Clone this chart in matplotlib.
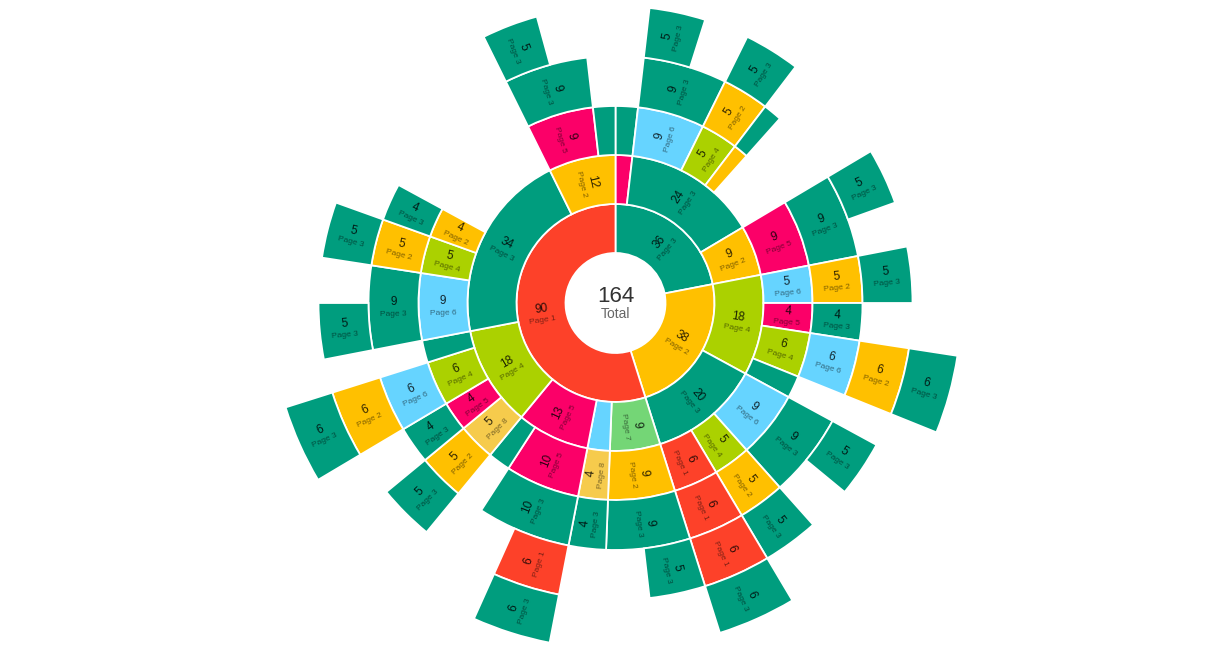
import numpy as np
import matplotlib.pyplot as plt

plt.rcParams['font.family'] = ['Liberation Sans', 'DejaVu Sans']

# ring 1 (clockwise from 12 o'clock)
ring1_labels = ["Page 3", "Page 2", "Page 1"]
ring1_values = [36, 38, 90]

# ring 2, parent = index in ring 1
ring2_parents = [0, 0, 0, 1, 1, 2, 2, 2, 2, 2, 2]
ring2_labels = ["Page 5", "Page 3", "Page 2", "Page 4", "Page 3", "Page 7",
                "Page 6", "Page 5", "Page 4", "Page 3", "Page 2"]
ring2_values = [3, 24, 9, 18, 20, 9, 4, 13, 18, 34, 12]

# ring 3
ring3_parents = [0, 1, 1, 1, 2, 3, 3, 3, 3, 4, 4, 4, 5, 6, 7, 7, 8, 8, 8, 8, 9, 9, 9, 10, 10]
ring3_labels = ["Page 3", "Page 6", "Page 4", "Page 2", "Page 5", "Page 6", "Page 5",
                "Page 4", "Page 3", "Page 6", "Page 4", "Page 1", "Page 2", "Page 8",
                "Page 5", "Page 3", "Page 8", "Page 5", "Page 4", "Page 3", "Page 6",
                "Page 4", "Page 2", "Page 5", "Page 3"]
ring3_values = [3, 9, 5, 2, 9, 5, 4, 6, 3, 9, 5, 6, 9, 4, 10, 3, 5, 4, 6, 3, 9, 5, 4, 9, 3]

# ring 4
ring4_parents = [1, 2, 3, 4, 5, 6, 7, 9, 10, 11, 12, 13, 14, 16, 17, 18, 20, 21, 22, 23]
ring4_labels = ["Page 3", "Page 2", "Page 3", "Page 3", "Page 2", "Page 3", "Page 6",
                "Page 3", "Page 2", "Page 1", "Page 3", "Page 3", "Page 3", "Page 2",
                "Page 3", "Page 6", "Page 3", "Page 2", "Page 3", "Page 3"]
ring4_values = [9, 5, 2, 9, 5, 4, 6, 9, 5, 6, 9, 4, 10, 5, 4, 6, 9, 5, 4, 9]

# ring 5
ring5_parents = [0, 1, 3, 4, 6, 7, 8, 9, 10, 12, 13, 15, 16, 17, 19]
ring5_labels = ["Page 3", "Page 3", "Page 3", "Page 3", "Page 2", "Page 3", "Page 3",
                "Page 1", "Page 3", "Page 1", "Page 3", "Page 2", "Page 3", "Page 3", "Page 3"]
ring5_values = [5, 5, 5, 5, 6, 5, 5, 6, 5, 6, 5, 6, 5, 5, 5]

# ring 6
ring6_parents = [4, 7, 9, 11]
ring6_labels = ["Page 3", "Page 3", "Page 3", "Page 3"]
ring6_values = [6, 6, 6, 6]

page_colors = {
    "Page 1": "#fd4129",
    "Page 2": "#ffc000",
    "Page 3": "#009d7e",
    "Page 4": "#abd100",
    "Page 5": "#fb0068",
    "Page 6": "#66d4ff",
    "Page 7": "#74d676",
    "Page 8": "#f6cb4c",
}

total = sum(ring1_values)
radii = [50, 99, 148, 197, 247, 297, 346]

W, H = 1230, 650
cx, cy = 615.5, H - 303
R = 350
fig = plt.figure(figsize=(W / 100, H / 100), dpi=100)
ax = fig.add_axes([(cx - R) / W, (cy - R) / H, 2 * R / W, 2 * R / H], projection="polar")
ax.set_theta_zero_location("N")
ax.set_theta_direction(-1)
ax.set_ylim(0, R)
ax.set_axis_off()

unit = 2 * np.pi / total
rings = [
    (None, ring1_labels, ring1_values),
    (ring2_parents, ring2_labels, ring2_values),
    (ring3_parents, ring3_labels, ring3_values),
    (ring4_parents, ring4_labels, ring4_values),
    (ring5_parents, ring5_labels, ring5_values),
    (ring6_parents, ring6_labels, ring6_values),
]

prev_starts = None
for level, (parents, labels, values) in enumerate(rings):
    r_in, r_out = radii[level], radii[level + 1]
    starts = []
    cursor = {}
    for i, (lab, val) in enumerate(zip(labels, values)):
        p = None if parents is None else parents[i]
        s = cursor.get(p, 0.0 if p is None else prev_starts[p])
        cursor[p] = s + val * unit
        starts.append(s)
        w = val * unit
        mid = s + w / 2
        ax.bar(mid, r_out - r_in, width=w, bottom=r_in, color=page_colors[lab],
               edgecolor="white", linewidth=1.3, align="center")

        # small slices get no label
        r_mid = (r_in + r_out) / 2
        if r_mid * w < 22:
            continue
        a = np.degrees(mid)
        rot = 90 - a if a <= 180 else 270 - a
        up = np.array([-np.sin(np.radians(rot)), np.cos(np.radians(rot))])
        for txt, d, size, col in [(str(val), 5, 8.5, (0, 0, 0, 0.82)),
                                  (lab, -6.5, 6, (0, 0, 0, 0.5))]:
            ax.annotate(txt, xy=(mid, r_mid), xytext=tuple(up * d),
                        textcoords="offset pixels", ha="center", va="center",
                        rotation=rot, rotation_mode="anchor", fontsize=size, color=col)
    prev_starts = starts

ax.annotate(str(total), xy=(0, 0), xytext=(0, 7), textcoords="offset pixels",
            ha="center", va="center", fontsize=16, color="#333333")
ax.annotate("Total", xy=(0, 0), xytext=(0, -11), textcoords="offset pixels",
            ha="center", va="center", fontsize=10, color="#666666")

fig.savefig("out.png", dpi=100)
